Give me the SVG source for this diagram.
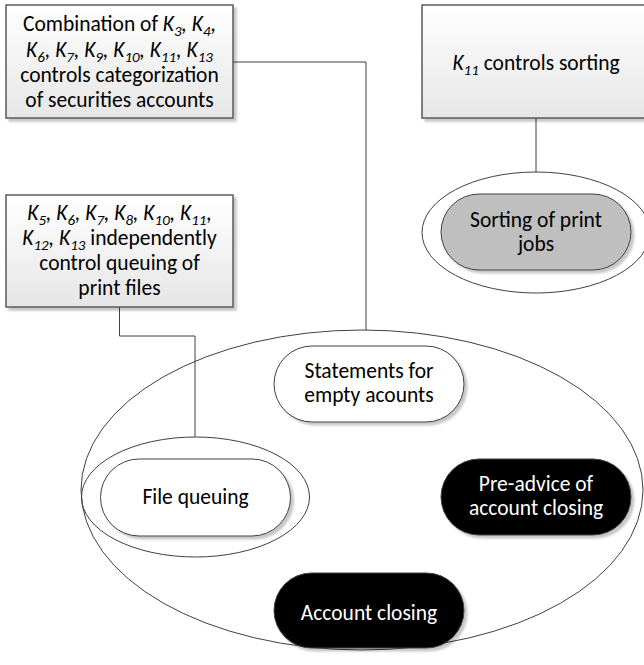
<svg xmlns="http://www.w3.org/2000/svg" width="644" height="665" viewBox="0 0 644 665">
  <defs>
    <linearGradient id="boxFill" x1="0" y1="0" x2="0" y2="1">
      <stop offset="0" stop-color="#ffffff"/>
      <stop offset="1" stop-color="#e6e6e6"/>
    </linearGradient>
    <filter id="shadow" x="-10%" y="-10%" width="125%" height="130%">
      <feDropShadow dx="3" dy="3" stdDeviation="1.2" flood-color="#000" flood-opacity="0.22"/>
    </filter>
  </defs>
  <style>
    text { font-family: Carlito, Lato, "Open Sans", sans-serif; font-size: 21.5px; fill: #000; text-anchor: middle; }
    .k { font-style: italic; }
    .s { font-style: italic; font-size: 15px; }
    .box { fill: url(#boxFill); stroke: #5a5a5a; stroke-width: 1.5; filter: url(#shadow); }
    .ring { fill: none; stroke: #404040; stroke-width: 1; }
    .pill { stroke: #404040; stroke-width: 1; filter: url(#shadow); }
    .light { fill: #ffffff; }
    .gray { fill: #bfbfbf; }
    .dark { fill: #000000; }
    text.inv { fill: #ffffff; }
    .wire { fill: none; stroke: #404040; stroke-width: 1; }
  </style>

  <!-- connectors -->
  <g id="connectors">
    <polyline class="wire" points="233,62 366,62 366,330"/>
    <polyline class="wire" points="119.5,307 119.5,336 195,336 195,437"/>
    <line class="wire" x1="536" y1="118" x2="536" y2="172"/>
  </g>

  <!-- containers -->
  <g id="group-main">
    <ellipse class="ring" cx="362" cy="490" rx="281" ry="160"/>
  </g>
  <g id="group-queue">
    <ellipse class="ring" cx="195.5" cy="497" rx="114" ry="60"/>
  </g>
  <g id="group-sort">
    <ellipse class="ring" cx="536" cy="232.5" rx="114" ry="60.5"/>
  </g>

  <!-- rule boxes -->
  <g id="rule-categorization">
    <rect class="box" x="6" y="5" width="227" height="113"/>
    <text x="119.5" y="31">Combination of <tspan class="k">K</tspan><tspan class="s" dy="5">3</tspan><tspan class="k" dy="-5">,</tspan> <tspan class="k">K</tspan><tspan class="s" dy="5">4</tspan><tspan class="k" dy="-5">,</tspan></text>
    <text x="119.5" y="56.5"><tspan class="k">K</tspan><tspan class="s" dy="5">6</tspan><tspan class="k" dy="-5">,</tspan> <tspan class="k">K</tspan><tspan class="s" dy="5">7</tspan><tspan class="k" dy="-5">,</tspan> <tspan class="k">K</tspan><tspan class="s" dy="5">9</tspan><tspan class="k" dy="-5">,</tspan> <tspan class="k">K</tspan><tspan class="s" dy="5">10</tspan><tspan class="k" dy="-5">,</tspan> <tspan class="k">K</tspan><tspan class="s" dy="5">11</tspan><tspan class="k" dy="-5">,</tspan> <tspan class="k">K</tspan><tspan class="s" dy="5">13</tspan></text>
    <text x="119.5" y="82">controls categorization</text>
    <text x="119.5" y="107">of securities accounts</text>
  </g>

  <g id="rule-sorting">
    <rect class="box" x="422" y="5" width="227" height="113"/>
    <text x="536" y="70"><tspan class="k">K</tspan><tspan class="s" dy="5">11</tspan><tspan dy="-5"> controls sorting</tspan></text>
  </g>

  <g id="rule-queuing">
    <rect class="box" x="6" y="195" width="227" height="112"/>
    <text x="119.5" y="219.5"><tspan class="k">K</tspan><tspan class="s" dy="5">5</tspan><tspan class="k" dy="-5">,</tspan> <tspan class="k">K</tspan><tspan class="s" dy="5">6</tspan><tspan class="k" dy="-5">,</tspan> <tspan class="k">K</tspan><tspan class="s" dy="5">7</tspan><tspan class="k" dy="-5">,</tspan> <tspan class="k">K</tspan><tspan class="s" dy="5">8</tspan><tspan class="k" dy="-5">,</tspan> <tspan class="k">K</tspan><tspan class="s" dy="5">10</tspan><tspan class="k" dy="-5">,</tspan> <tspan class="k">K</tspan><tspan class="s" dy="5">11</tspan><tspan class="k" dy="-5">,</tspan></text>
    <text x="119.5" y="245"><tspan class="k">K</tspan><tspan class="s" dy="5">12</tspan><tspan class="k" dy="-5">,</tspan> <tspan class="k">K</tspan><tspan class="s" dy="5">13</tspan><tspan dy="-5"> independently</tspan></text>
    <text x="119.5" y="270">control queuing of</text>
    <text x="119.5" y="295">print files</text>
  </g>

  <!-- process nodes -->
  <g id="sorting-of-print-jobs">
    <rect class="pill gray" x="441" y="194" width="190" height="76" rx="38"/>
    <text x="536" y="226.5">Sorting of print</text>
    <text x="536" y="251">jobs</text>
  </g>

  <g id="statements-empty-accounts">
    <rect class="pill light" x="274" y="346" width="190" height="76" rx="38"/>
    <text x="369" y="377.5">Statements for</text>
    <text x="369" y="402">empty acounts</text>
  </g>

  <g id="file-queuing">
    <rect class="pill light" x="100.5" y="459" width="190" height="77" rx="38.5"/>
    <text x="195.5" y="503.5">File queuing</text>
  </g>

  <g id="pre-advice-account-closing">
    <rect class="pill dark" x="441" y="459" width="190" height="76" rx="38"/>
    <text class="inv" x="536" y="490.5">Pre-advice of</text>
    <text class="inv" x="536" y="515">account closing</text>
  </g>

  <g id="account-closing">
    <rect class="pill dark" x="274" y="573" width="190" height="75" rx="37.5"/>
    <text class="inv" x="369" y="620">Account closing</text>
  </g>
</svg>
